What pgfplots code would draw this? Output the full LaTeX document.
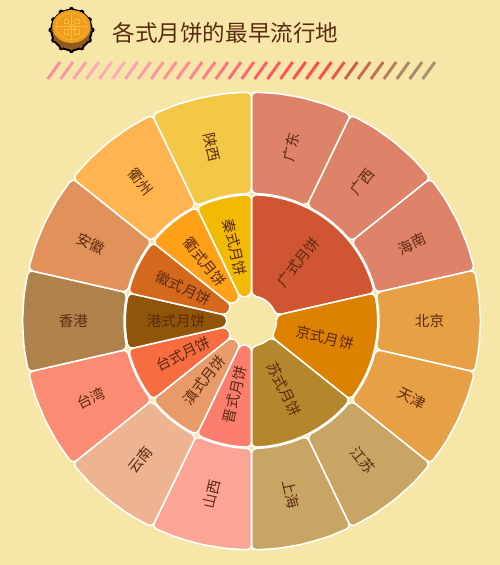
\documentclass[border=0pt]{standalone}
\usepackage{fontspec}
\setmainfont{Noto Sans CJK SC}
\usepackage{pgfplots}
\pgfplotsset{compat=1.18}
\definecolor{bg}{HTML}{F6E7A8}
\definecolor{txt}{HTML}{5A2A10}
\definecolor{cakeb}{HTML}{8E5A22}
\definecolor{cakef}{HTML}{EE9E1C}
\definecolor{cakel}{HTML}{F8BC38}
\definecolor{gd}{HTML}{DE8269}\definecolor{gs}{HTML}{D05532}
\definecolor{bj}{HTML}{E8A046}\definecolor{js}{HTML}{DD8200}
\definecolor{jsu}{HTML}{C8A564}\definecolor{ss}{HTML}{B4872D}
\definecolor{sx}{HTML}{FCA596}\definecolor{jin}{HTML}{FA7D6E}
\definecolor{yn}{HTML}{EEB491}\definecolor{dian}{HTML}{E89B69}
\definecolor{tw}{HTML}{FA8C73}\definecolor{tai}{HTML}{F86C41}
\definecolor{hk}{HTML}{AF824B}\definecolor{gang}{HTML}{91550A}
\definecolor{ah}{HTML}{E1915A}\definecolor{hui}{HTML}{D4691E}
\definecolor{qz}{HTML}{FFB450}\definecolor{qu}{HTML}{FFA019}
\definecolor{sn}{HTML}{F3C846}\definecolor{qin}{HTML}{F2B905}
% one sector of the outer ring: colour, five angles along the arc
\newcommand\ringout[6]{\addplot[fill=#1,draw=white,line width=1.15pt,rounded corners=3.6pt,line join=round]
  coordinates {(#2,229)(#3,229)(#4,229)(#5,229)(#6,229)(#6,127.6)(#5,127.6)(#4,127.6)(#3,127.6)(#2,127.6)} -- cycle;}
% one sector of the inner ring with a one-step arc round the hole
\newcommand\ringin[6]{\addplot[fill=#1,draw=white,line width=1.15pt,rounded corners=3.6pt,line join=round]
  coordinates {(#2,126.4)(#3,126.4)(#4,126.4)(#5,126.4)(#6,126.4)(#6,25.5)(#2,25.5)} -- cycle;}
% one label: angle, radius, rotation, text
\newcommand\lab[4]{\addplot[only marks,mark=none,point meta=explicit symbolic,
  nodes near coords={#4},
  every node near coord/.append style={rotate=#3,anchor=center,inner sep=0pt,text=txt,font=\fontsize{10.9pt}{12pt}\selectfont}]
  coordinates {(#1,#2)[x]};}
\begin{document}
\begin{tikzpicture}
\fill[bg] (0,0) rectangle (375pt,423.75pt);
\begin{scope}[x=0.75pt,y=-0.75pt,yshift=423.75pt]
  % moon cake icon
  \foreach \t in {0,30,...,330}{\fill[black] ({71.5+20.5*cos(\t)},{30+20.5*sin(\t)}) circle (2.6);}
  \fill[black] (71.5,30) circle (21.2);
  \foreach \t in {0,30,...,330}{\fill[cakeb] ({71.5+18.8*cos(\t)},{30+18.8*sin(\t)}) circle (1.9);}
  \fill[cakeb] (71.5,30) circle (19.2);
  \fill[cakef] (71.5,26.5) ellipse (19.2 and 16.5);
  \begin{scope}[draw=cakel,line width=0.5pt]
    \draw (71.5,26.5) ellipse (15.5 and 13.5);
    \draw (71.5,13) -- (71.5,40) (56,26.5) -- (87,26.5);
    \draw (64,19) rectangle (68.5,23.5) (74.5,19) rectangle (79,23.5) (64,29.5) rectangle (68.5,34) (74.5,29.5) rectangle (79,34);
    \draw (69,24) rectangle (74,29);
  \end{scope}
  % title
  \node[text=txt,font=\fontsize{16.9pt}{20pt}\selectfont,anchor=center] at (225.5,33) {各式月饼的最早流行地};
  % stripe
  \foreach \i/\c in {0/FF8A9C,1/FF94A8,2/FF9EB0,3/FFA8BA,4/FFA8BC,5/FFA8BC,6/FFA0B2,7/FF9AAA,8/FF94A4,9/FF8E9C,
    10/FF8A96,11/FF8490,12/FF7C88,13/FF7480,14/FF6C78,15/FF6670,16/FF5F68,17/FF5860,18/FF5258,19/FF4C50,
    20/FF4A4A,21/FF4A4A,22/E85A50,23/D0604E,24/C46A52,25/BC7256,26/B87C5E,27/B08466,28/A88A6C,29/A89070}{
    \definecolor{tmpc}{HTML}{\c}
    \draw[tmpc,line width=2.2pt] ({47.7+12.93*\i},79) -- ({60+12.93*\i},62);
  }
\end{scope}
\begin{axis}[at={(0,0)},anchor=south west,width=375pt,height=423.75pt,scale only axis,
  xmin=-251.5,xmax=248.5,ymin=-244,ymax=321,hide axis,clip=false,data cs=polar]
\ringout{gd}{90}{83.57}{77.14}{70.71}{64.29}
\ringout{gd}{64.29}{57.86}{51.43}{45}{38.57}
\ringout{gd}{38.57}{32.14}{25.71}{19.29}{12.86}
\ringout{bj}{12.86}{6.43}{0}{-6.43}{-12.86}
\ringout{bj}{-12.86}{-19.29}{-25.71}{-32.14}{-38.57}
\ringout{jsu}{-38.57}{-45}{-51.43}{-57.86}{-64.29}
\ringout{jsu}{-64.29}{-70.71}{-77.14}{-83.57}{-90}
\ringout{sx}{-90}{-96.43}{-102.86}{-109.29}{-115.71}
\ringout{yn}{-115.71}{-122.14}{-128.57}{-135}{-141.43}
\ringout{tw}{-141.43}{-147.86}{-154.29}{-160.71}{-167.14}
\ringout{hk}{-167.14}{-173.57}{-180}{-186.43}{-192.86}
\ringout{ah}{-192.86}{-199.29}{-205.71}{-212.14}{-218.57}
\ringout{qz}{-218.57}{-225}{-231.43}{-237.86}{-244.29}
\ringout{sn}{-244.29}{-250.71}{-257.14}{-263.57}{-270}
% 广式, 京式, 苏式 span several provinces
\addplot[fill=gs,draw=white,line width=1.15pt,rounded corners=3.6pt,line join=round] coordinates {
 (90,126.4)(83.57,126.4)(77.14,126.4)(70.71,126.4)(64.29,126.4)(57.86,126.4)(51.43,126.4)(45,126.4)(38.57,126.4)(32.14,126.4)(25.71,126.4)(19.29,126.4)(12.86,126.4)
 (12.86,25.5)(38.57,25.5)(64.29,25.5)(90,25.5)} -- cycle;
\addplot[fill=js,draw=white,line width=1.15pt,rounded corners=3.6pt,line join=round] coordinates {
 (12.86,126.4)(6.43,126.4)(0,126.4)(-6.43,126.4)(-12.86,126.4)(-19.29,126.4)(-25.71,126.4)(-32.14,126.4)(-38.57,126.4)
 (-38.57,25.5)(-12.86,25.5)(12.86,25.5)} -- cycle;
\addplot[fill=ss,draw=white,line width=1.15pt,rounded corners=3.6pt,line join=round] coordinates {
 (-38.57,126.4)(-45,126.4)(-51.43,126.4)(-57.86,126.4)(-64.29,126.4)(-70.71,126.4)(-77.14,126.4)(-83.57,126.4)(-90,126.4)
 (-90,25.5)(-64.29,25.5)(-38.57,25.5)} -- cycle;
\ringin{jin}{-90}{-96.43}{-102.86}{-109.29}{-115.71}
\ringin{dian}{-115.71}{-122.14}{-128.57}{-135}{-141.43}
\ringin{tai}{-141.43}{-147.86}{-154.29}{-160.71}{-167.14}
\ringin{gang}{-167.14}{-173.57}{-180}{-186.43}{-192.86}
\ringin{hui}{-192.86}{-199.29}{-205.71}{-212.14}{-218.57}
\ringin{qu}{-218.57}{-225}{-231.43}{-237.86}{-244.29}
\ringin{qin}{-244.29}{-250.71}{-257.14}{-263.57}{-270}
\lab{77.14}{178}{77.14}{广东}
\lab{51.43}{178}{51.43}{广西}
\lab{25.71}{178}{25.71}{海南}
\lab{0}{178}{0}{北京}
\lab{-25.71}{178}{-25.71}{天津}
\lab{-51.43}{178}{-51.43}{江苏}
\lab{-77.14}{178}{-77.14}{上海}
\lab{-102.86}{178}{77.14}{山西}
\lab{-128.57}{178}{51.43}{云南}
\lab{-154.29}{178}{25.71}{台湾}
\lab{-180}{178}{0}{香港}
\lab{-205.71}{178}{-25.71}{安徽}
\lab{-231.43}{178}{-51.43}{衢州}
\lab{-257.14}{178}{-77.14}{陕西}
\lab{51.43}{75.5}{51.43}{广式月饼}
\lab{-12.86}{75.5}{-12.86}{京式月饼}
\lab{-64.29}{75.5}{-64.29}{苏式月饼}
\lab{-102.86}{75.5}{77.14}{晋式月饼}
\lab{-128.57}{75.5}{51.43}{滇式月饼}
\lab{-154.29}{75.5}{25.71}{台式月饼}
\lab{-180}{75.5}{0}{港式月饼}
\lab{-205.71}{75.5}{-25.71}{徽式月饼}
\lab{-231.43}{75.5}{-51.43}{衢式月饼}
\lab{-257.14}{75.5}{-77.14}{秦式月饼}
\end{axis}
\end{tikzpicture}
\end{document}
